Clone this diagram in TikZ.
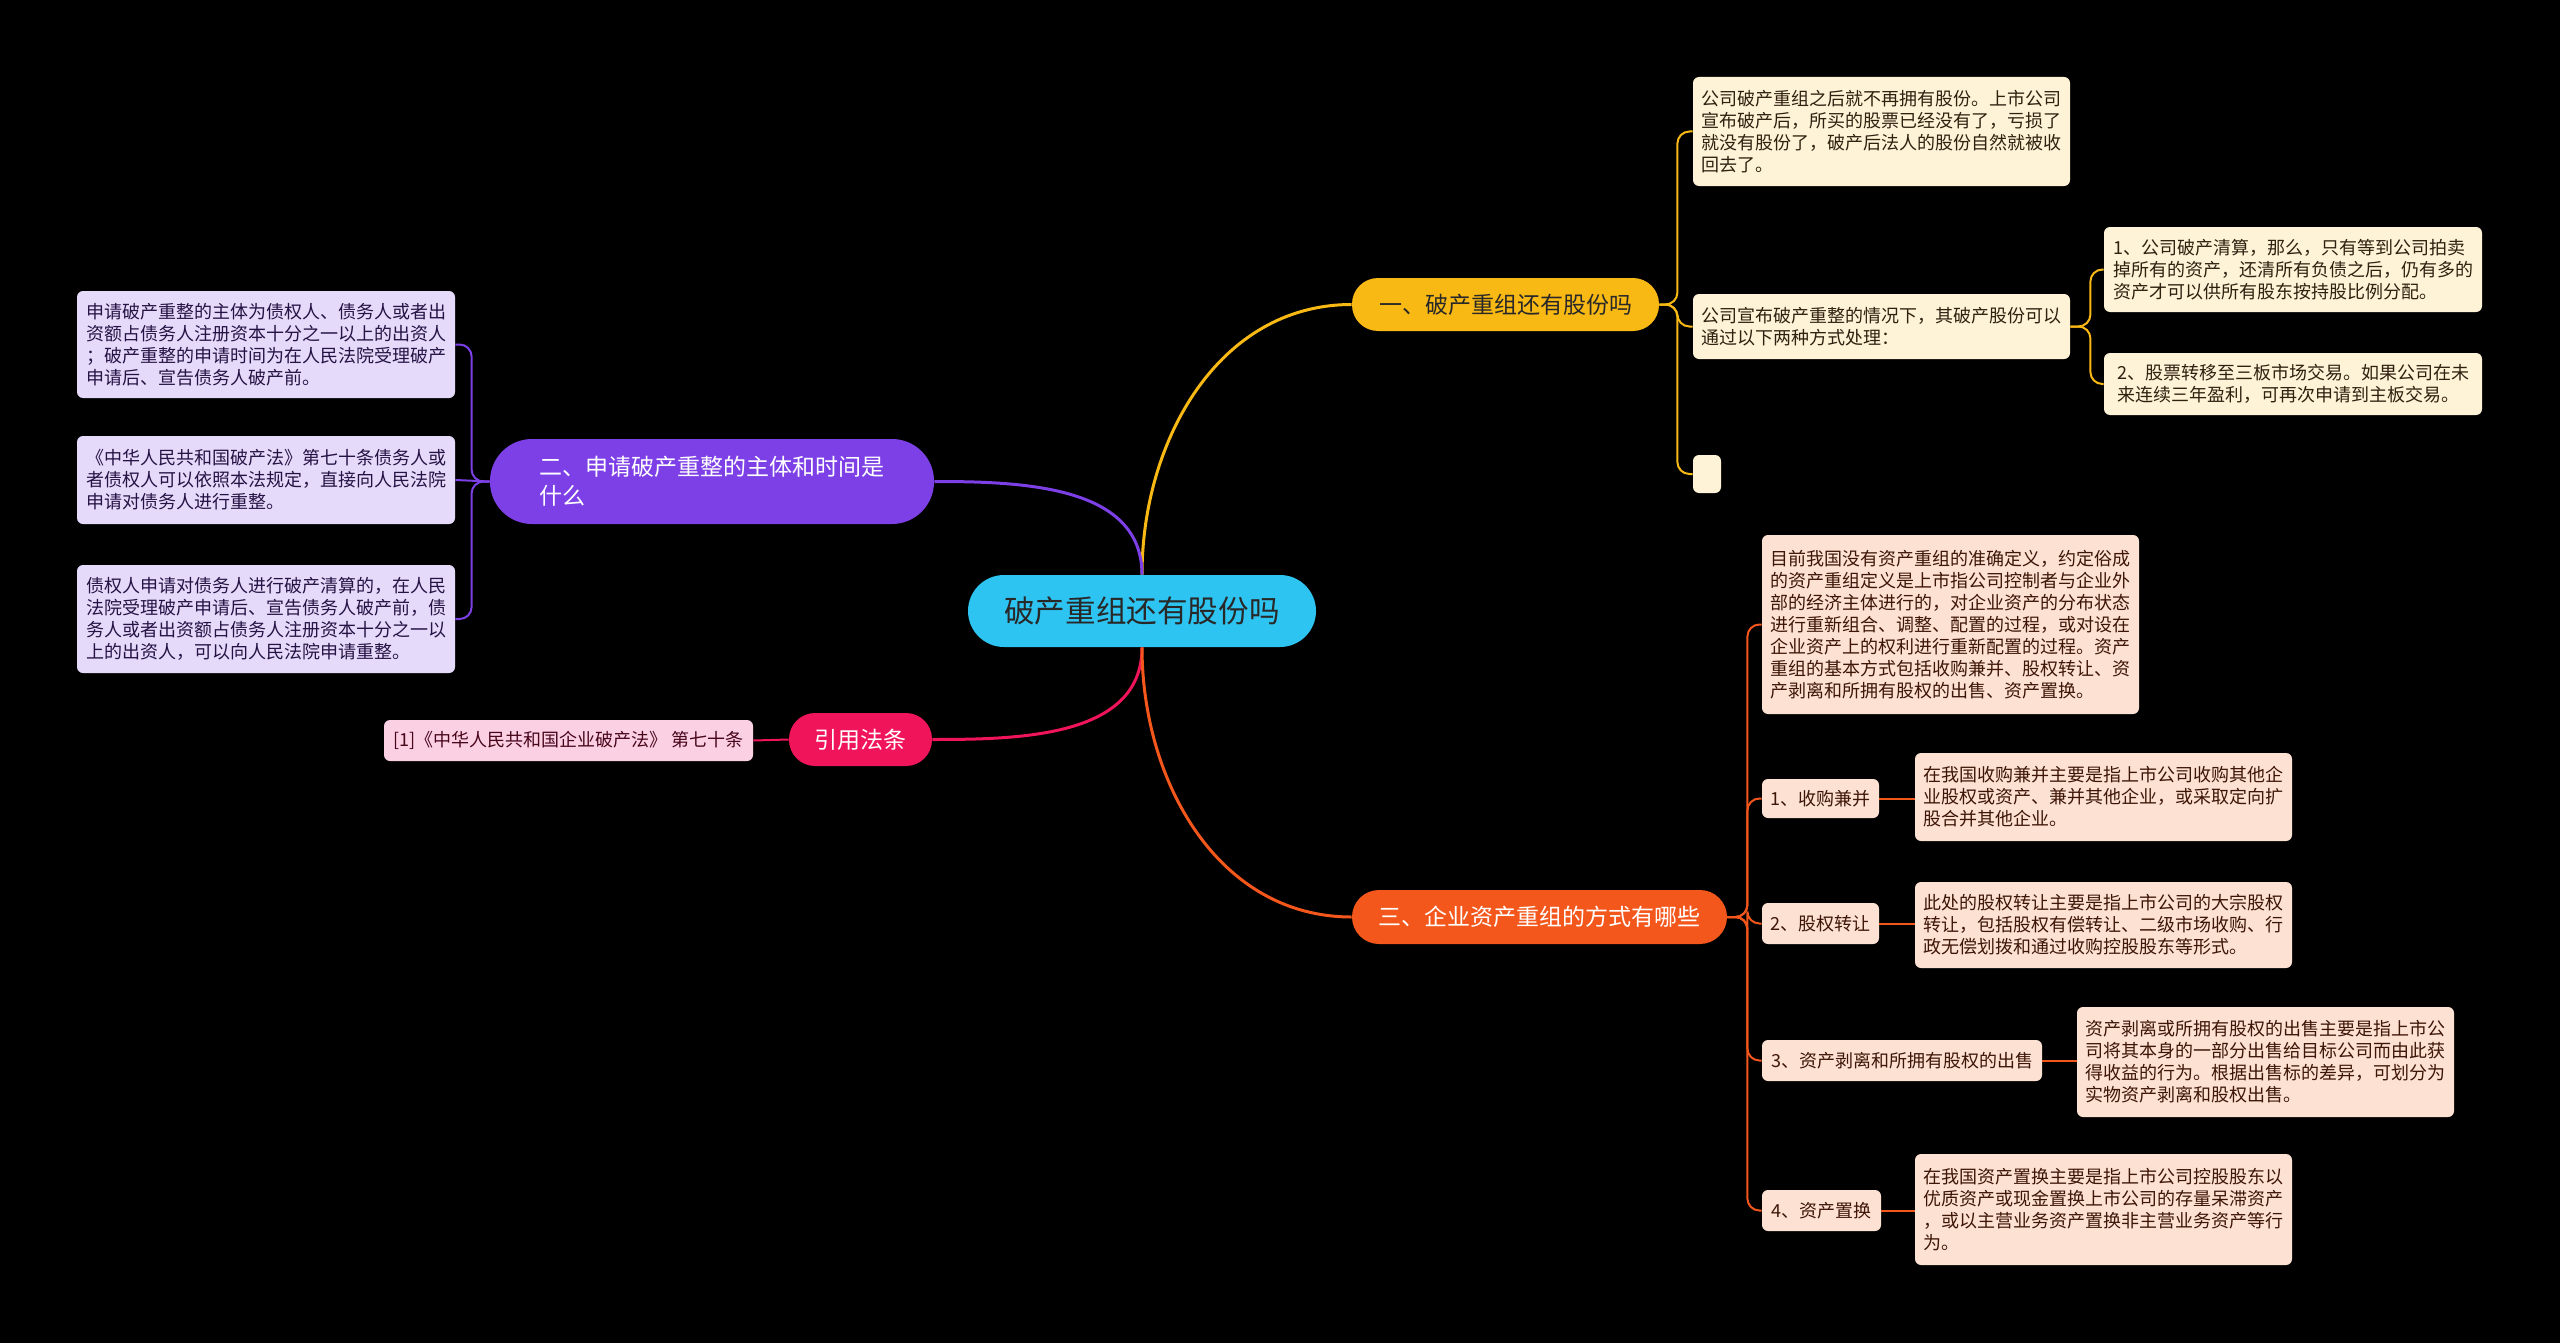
\documentclass[tikz,border=0pt]{standalone}
\usepackage{fontspec}
\newfontfamily\cjk{Noto Sans CJK SC}
\definecolor{hellblau}{RGB}{46,196,242}
\definecolor{goldgelb}{RGB}{249,185,21}
\definecolor{lila}{RGB}{125,63,230}
\definecolor{pinkrot}{RGB}{240,20,90}
\definecolor{orangerot}{RGB}{244,87,28}
\definecolor{creme}{RGB}{254,243,214}
\definecolor{lavendel}{RGB}{230,218,250}
\definecolor{rosa}{RGB}{251,208,226}
\definecolor{pfirsich}{RGB}{253,225,211}
\definecolor{dunkel}{RGB}{40,40,40}
\begin{document}
\begin{tikzpicture}[x=0.5pt, y=-0.5pt,
		>=latex,   %Pfeilspitzen
		mitte/.style={fill=hellblau, text=dunkel, rounded corners=18pt, minimum width=174pt, minimum height=36pt, inner sep=0pt, font=\cjk\fontsize{15.3}{18}\selectfont},
		zweig/.style={inner sep=0pt, text=white, align=left, font=\cjk\fontsize{11.5}{14.5}\selectfont},
		blatt/.style={rounded corners=3pt, inner xsep=4pt, inner ysep=4pt, align=left, minimum width=188.5pt, font=\cjk\fontsize{9}{11}\selectfont},
		hauptlinie/.style={line width=1.5pt},
		astlinie/.style={line width=1pt, rounded corners=6pt}]
		%Hintergrund
		\fill[black] (0,0) rectangle (2560,1343);
		\useasboundingbox (0,0) rectangle (2560,1343);
		%Mitte und Zweige
		\node[mitte] (zentrum) at (1142,611) {破产重组还有股份吗};
		\node[zweig, fill=goldgelb, text=dunkel, rounded corners=13pt, minimum width=153.5pt, minimum height=26.5pt] (gufen) at (1505.5,304.5) {一、破产重组还有股份吗};
		\node[zweig, fill=lila, rounded corners=21pt, minimum width=222pt, minimum height=42.5pt] (zhuti) at (712,481.5) {二、申请破产重整的主体和时间是\\什么};
		\node[zweig, fill=pinkrot, rounded corners=13pt, minimum width=71.5pt, minimum height=26.5pt] (fatiao) at (860.5,739.5) {引用法条};
		\node[zweig, fill=orangerot, rounded corners=13.5pt, minimum width=187.5pt, minimum height=27pt] (fangshi) at (1539.5,917) {三、企业资产重组的方式有哪些};
		%Blaetter oben rechts
		\node[blatt, fill=creme, text=black!75!brown, minimum height=54.5pt] (gufen1) at (1881.5,131.5) {公司破产重组之后就不再拥有股份。上市公司\\宣布破产后，所买的股票已经没有了，亏损了\\就没有股份了，破产后法人的股份自然就被收\\回去了。};
		\node[blatt, fill=creme, text=black!75!brown, minimum height=32.5pt] (gufen2) at (1881.5,326.5) {公司宣布破产重整的情况下，其破产股份可以\\通过以下两种方式处理：};
		\node[blatt, fill=creme, text=black!75!brown, minimum width=189pt, minimum height=42.5pt] (gufen21) at (2293,269.5) {1、公司破产清算，那么，只有等到公司拍卖\\掉所有的资产，还清所有负债之后，仍有多的\\资产才可以供所有股东按持股比例分配。};
		\node[blatt, fill=creme, text=black!75!brown, minimum width=189pt, minimum height=31pt] (gufen22) at (2293,384) {2、股票转移至三板市场交易。如果公司在未\\来连续三年盈利，可再次申请到主板交易。};
		\node[blatt, fill=creme, minimum width=14pt, minimum height=19pt] (gufen3) at (1707,474) {};
		%Blaetter links
		\node[blatt, fill=lavendel, text=black!70!lila, minimum width=189pt, minimum height=53.5pt] (zhuti1) at (266,344.5) {申请破产重整的主体为债权人、债务人或者出\\资额占债务人注册资本十分之一以上的出资人\\；破产重整的申请时间为在人民法院受理破产\\申请后、宣告债务人破产前。};
		\node[blatt, fill=lavendel, text=black!70!lila, minimum width=189pt, minimum height=44pt] (zhuti2) at (266,480) {《中华人民共和国破产法》第七十条债务人或\\者债权人可以依照本法规定，直接向人民法院\\申请对债务人进行重整。};
		\node[blatt, fill=lavendel, text=black!70!lila, minimum width=189pt, minimum height=54pt] (zhuti3) at (266,619) {债权人申请对债务人进行破产清算的，在人民\\法院受理破产申请后、宣告债务人破产前，债\\务人或者出资额占债务人注册资本十分之一以\\上的出资人，可以向人民法院申请重整。};
		\node[blatt, fill=rosa, text=black!70!pinkrot, minimum width=184.5pt, minimum height=20.5pt] (fatiao1) at (568.5,740.5) {[1]《中华人民共和国企业破产法》 第七十条};
		%Blaetter unten rechts
		\node[blatt, fill=pfirsich, text=black!75!orangerot, minimum height=89.5pt] (fangshi0) at (1950.5,624.5) {目前我国没有资产重组的准确定义，约定俗成\\的资产重组定义是上市指公司控制者与企业外\\部的经济主体进行的，对企业资产的分布状态\\进行重新组合、调整、配置的过程，或对设在\\企业资产上的权利进行重新配置的过程。资产\\重组的基本方式包括收购兼并、股权转让、资\\产剥离和所拥有股权的出售、资产置换。};
		\node[blatt, fill=pfirsich, text=black!75!orangerot, minimum width=58.5pt, minimum height=19.5pt] (fangshi1) at (1820.5,798.5) {1、收购兼并};
		\node[blatt, fill=pfirsich, text=black!75!orangerot, minimum height=44pt] (fangshi1a) at (2103.5,797) {在我国收购兼并主要是指上市公司收购其他企\\业股权或资产、兼并其他企业，或采取定向扩\\股合并其他企业。};
		\node[blatt, fill=pfirsich, text=black!75!orangerot, minimum width=58.5pt, minimum height=20.5pt] (fangshi2) at (1820.5,923.5) {2、股权转让};
		\node[blatt, fill=pfirsich, text=black!75!orangerot, minimum height=43pt] (fangshi2a) at (2103.5,925) {此处的股权转让主要是指上市公司的大宗股权\\转让，包括股权有偿转让、二级市场收购、行\\政无偿划拨和通过收购控股股东等形式。};
		\node[blatt, fill=pfirsich, text=black!75!orangerot, minimum width=140pt, minimum height=20.5pt] (fangshi3) at (1902,1060.5) {3、资产剥离和所拥有股权的出售};
		\node[blatt, fill=pfirsich, text=black!75!orangerot, minimum height=55pt] (fangshi3a) at (2265.5,1062) {资产剥离或所拥有股权的出售主要是指上市公\\司将其本身的一部分出售给目标公司而由此获\\得收益的行为。根据出售标的差异，可划分为\\实物资产剥离和股权出售。};
		\node[blatt, fill=pfirsich, text=black!75!orangerot, minimum width=59.5pt, minimum height=20.5pt] (fangshi4) at (1821.5,1210.5) {4、资产置换};
		\node[blatt, fill=pfirsich, text=black!75!orangerot, minimum height=55.5pt] (fangshi4a) at (2103.5,1209.5) {在我国资产置换主要是指上市公司控股股东以\\优质资产或现金置换上市公司的存量呆滞资产\\，或以主营业务资产置换非主营业务资产等行\\为。};
		%Hauptlinien
		\draw[hauptlinie, goldgelb] (zentrum.north) to[out=90, in=180] (gufen.west);
		\draw[hauptlinie, lila] (zentrum.north) to[out=90, in=0] (zhuti.east);
		\draw[hauptlinie, pinkrot] (zentrum.south) to[out=270, in=0] (fatiao.east);
		\draw[hauptlinie, orangerot] (zentrum.south) to[out=270, in=180] (fangshi.west);
		%Astlinien
		\foreach \b in {gufen1,gufen2,gufen3}
			\draw[astlinie, goldgelb] (gufen.east) -- ++(18,0) |- (\b.west);
		\foreach \b in {gufen21,gufen22}
			\draw[astlinie, goldgelb] (gufen2.east) -- ++(20,0) |- (\b.west);
		\foreach \b in {zhuti1,zhuti3}
			\draw[astlinie, lila] (zhuti.west) -- ++(-18,0) |- (\b.east);
		\draw[astlinie, lila] (zhuti.west) -- (zhuti2.east);
		\draw[astlinie, pinkrot] (fatiao.west) -- (fatiao1.east);
		\foreach \b in {fangshi0,fangshi1,fangshi3,fangshi4}
			\draw[astlinie, orangerot] (fangshi.east) -- ++(20,0) |- (\b.west);
		\draw[astlinie, orangerot] (fangshi.east) -- ++(20,0) -- ++(0,6.5) -- (fangshi2.west);
		\foreach \b in {1,2,3,4}
			\draw[astlinie, orangerot] (fangshi\b.east) -- (fangshi\b.east -| fangshi\b a.west);
	\end{tikzpicture}
\end{document}
